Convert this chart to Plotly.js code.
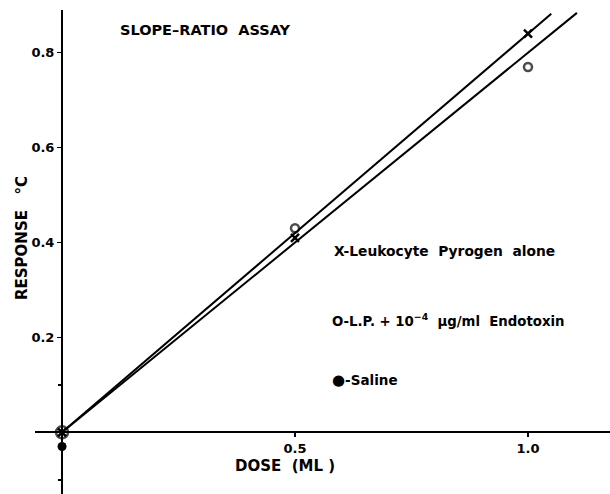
<!DOCTYPE html>
<html>
<head>
<meta charset="utf-8">
<script src="https://cdn.plot.ly/plotly-3.0.1.min.js"></script>
<style>html,body{margin:0;padding:0;background:#fff}#chart{width:610px;height:494px}</style>
</head>
<body>
<div id="chart"></div>
<script>
// Data
const doseX = [0, 0.5, 1.0];                 // Leukocyte Pyrogen alone (X)
const respX = [0, 0.41, 0.84];
const doseO = [0, 0.5, 1.0];                 // L.P. + 1e-4 ug/ml Endotoxin (O)
const respO = [0, 0.43, 0.77];
const doseSaline = [0];                      // Saline (filled dot)
const respSaline = [-0.03];
const fitSlopes = [0.84, 0.80];              // fitted lines through origin
const fitEnds = [1.05, 1.105];               // dose where each fitted line stops
const xTickVals = [0.5, 1.0];
const xTickText = ["0.5", "1.0"];
const yTickVals = [0.2, 0.4, 0.6, 0.8];
const yTickText = ["0.2", "0.4", "0.6", "0.8"];
const yMinorVals = [0.1, -0.1];
const xRange = [-0.058, 1.176];
const yRange = [-0.13, 0.89];

const font = "DejaVu Sans, Verdana, sans-serif";
const ink = "#000";
const bold = arr => arr.map(t => "<b>" + t + "</b>");

const traces = [];
fitSlopes.forEach((s, i) => {
  traces.push({
    x: [0, fitEnds[i]], y: [0, s * fitEnds[i]],
    mode: "lines", line: {color: ink, width: 2}, showlegend: false, hoverinfo: "skip"
  });
});
traces.push({
  x: doseO, y: respO, mode: "markers", cliponaxis: false,
  marker: {symbol: "circle", size: [12, 8, 8], color: "#fff", line: {color: ink, width: 2.5}}, showlegend: false
});
traces.push({
  x: doseX, y: respX, mode: "markers", cliponaxis: false,
  marker: {symbol: "x-thin", size: 8, color: ink, line: {color: ink, width: 2.5}}, showlegend: false
});
traces.push({
  x: doseSaline, y: respSaline, mode: "markers", cliponaxis: false,
  marker: {symbol: "circle", size: 9, color: ink}, showlegend: false
});

const xPos = (0 - yRange[0]) / (yRange[1] - yRange[0]);
const yPos = (0 - xRange[0]) / (xRange[1] - xRange[0]);

const layout = {
  width: 610, height: 494,
  margin: {l: 35, r: 0, t: 10, b: 0},
  paper_bgcolor: "#fff", plot_bgcolor: "#fff",
  showlegend: false,
  font: {family: font, color: ink, size: 13},
  title: {
    text: "<b>SLOPE–RATIO  ASSAY</b>",
    font: {family: font, size: 14.5, color: ink},
    x: 205 / 610, xanchor: "center", xref: "container",
    y: 1 - 30 / 494, yanchor: "middle", yref: "container"
  },
  xaxis: {
    range: xRange, anchor: "free", position: xPos,
    showline: true, linecolor: ink, linewidth: 2,
    showgrid: false, zeroline: false,
    ticks: "outside", ticklen: 4, tickwidth: 1.5, tickcolor: ink,
    tickmode: "array", tickvals: xTickVals, ticktext: bold(xTickText),
    tickfont: {family: font, size: 13, color: ink}
  },
  yaxis: {
    range: yRange, anchor: "free", position: yPos,
    showline: true, linecolor: ink, linewidth: 2,
    showgrid: false, zeroline: false,
    ticks: "outside", ticklen: 4, tickwidth: 1.5, tickcolor: ink,
    tickmode: "array", tickvals: yTickVals, ticktext: bold(yTickText),
    tickfont: {family: font, size: 13, color: ink},
    minor: {tickmode: "array", tickvals: yMinorVals, ticks: "outside", ticklen: 3, tickwidth: 1.5, tickcolor: ink}
  },
  annotations: [
    {x: (285 - 35) / 575, y: (494 - 466) / 484, xref: "paper", yref: "paper", xanchor: "center", yanchor: "middle",
     showarrow: false, text: "<b>DOSE  (ML )</b>", font: {family: font, size: 15, color: ink}},
    {x: (22 - 35) / 575, y: (494 - 238) / 484, xref: "paper", yref: "paper", xanchor: "center", yanchor: "middle",
     showarrow: false, textangle: -90, text: "<b>RESPONSE   °C</b>", font: {family: font, size: 15, color: ink}},
    {x: 0.58, y: 0.383, xref: "x", yref: "y", xanchor: "left", yanchor: "middle", showarrow: false,
     text: "<b>X-Leukocyte  Pyrogen  alone</b>", font: {family: font, size: 13.8, color: ink}},
    {x: 0.575, y: 0.236, xref: "x", yref: "y", xanchor: "left", yanchor: "middle", showarrow: false,
     text: "<b>O-L.P. + 10<sup>−4</sup>  µg/ml  Endotoxin</b>", font: {family: font, size: 13.3, color: ink}},
    {x: 0.575, y: 0.11, xref: "x", yref: "y", xanchor: "left", yanchor: "middle", showarrow: false,
     text: "<b><span style='font-size:15px'>●</span>-Saline</b>", font: {family: font, size: 13.5, color: ink}}
  ]
};

Plotly.newPlot("chart", traces, layout, {displayModeBar: false, staticPlot: true});
</script>
</body>
</html>
